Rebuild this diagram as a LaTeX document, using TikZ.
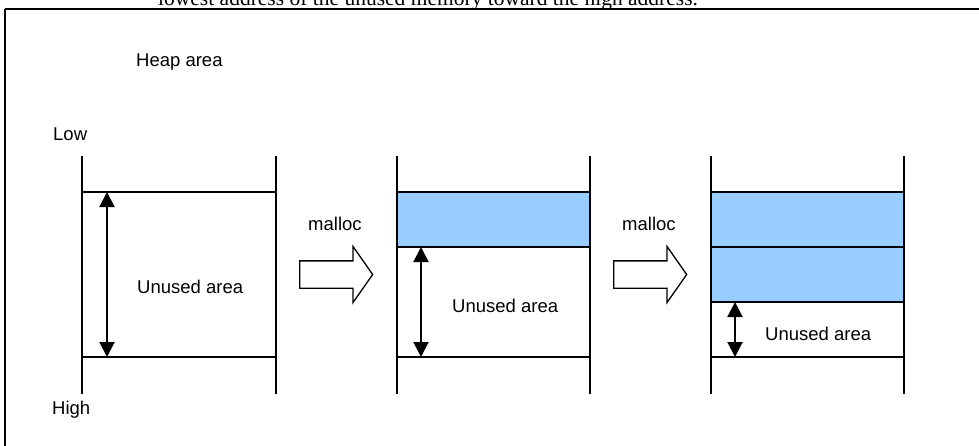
\documentclass[tikz,border=0pt]{standalone}
\usepackage{fontspec}
\setmainfont{Liberation Sans}
\newfontfamily\introserif{Liberation Serif}
\usetikzlibrary{arrows.meta,positioning,shapes.arrows}
\definecolor{heapBlue}{HTML}{99CCFF}

\begin{document}
\begin{tikzpicture}[x=1pt,y=-1pt,>={Triangle[width=15pt,length=15pt]},
    every node/.style={font=\fontsize{18.5}{20}\selectfont,inner sep=0pt},
    wall/.style={line width=1.4pt},
    span/.style={<->,line width=2pt},
    used/.style={fill=heapBlue,draw,line width=1.4pt},
    push/.style={single arrow,draw,line width=1.3pt,fill=white,minimum height=73pt,minimum width=55pt,
      single arrow head extend=14.5pt,single arrow tip angle=110,inner xsep=0pt,inner ysep=13pt}]
  \useasboundingbox (0,0) rectangle (979,445);
  \clip (0,0) rectangle (979,445);
  % ---- caption cut at the top, and the frame ----
  \node[anchor=base west,font=\introserif\fontsize{21.5}{24}\selectfont] (intro) at (158,5)
       {lowest address of the unused memory toward the high address.};
  \draw[line width=2.4pt] (5,9) -- (995,9);
  \draw[line width=1.2pt] (5,9) -- (5,460);
  % ---- titles ----
  \node[anchor=base west] (heap) at (136,66) {Heap area};
  \node[anchor=base west] (low)  at (53,140) {Low};
  \node[anchor=base west] (high) at (52,414) {High};
  % ---- first heap: all unused ----
  \draw[wall] (82,156) -- (82,394); \draw[wall] (276,156) -- (276,394);
  \draw[wall] (82,192) -- (276,192); \draw[wall] (82,357) -- (276,357);
  \coordinate (freeAtop) at (107,192); \coordinate (freeAbot) at (107,357);
  \draw[span] (freeAtop) -- (freeAbot);
  \node[anchor=base west] (unusedA) at (137,293) {Unused area};
  % ---- first malloc ----
  \node[push,anchor=west] (allocA) at (299,274.5) {};
  \node[anchor=base west] (mallocA) at (308,230) {malloc};
  % ---- second heap: one block taken ----
  \draw[used] (397,192) rectangle (590,247);
  \draw[wall] (397,156) -- (397,394); \draw[wall] (590,156) -- (590,394);
  \draw[wall] (397,357) -- (590,357);
  \coordinate (freeBtop) at (421,247); \coordinate (freeBbot) at (421,357);
  \draw[span] (freeBtop) -- (freeBbot);
  \node[anchor=base west] (unusedB) at (452,312) {Unused area};
  % ---- second malloc ----
  \node[push,anchor=west] (allocB) at (613,274.5) {};
  \node[anchor=base west] (mallocB) at (622,230) {malloc};
  % ---- third heap: two blocks taken ----
  \draw[used] (711,192) rectangle (904,247);
  \draw[used] (711,247) rectangle (904,302);
  \draw[wall] (711,156) -- (711,394); \draw[wall] (904,156) -- (904,394);
  \draw[wall] (711,357) -- (904,357);
  \coordinate (freeCtop) at (735,302); \coordinate (freeCbot) at (735,357);
  \draw[span] (freeCtop) -- (freeCbot);
  \node[anchor=base west] (unusedC) at (765,340) {Unused area};
\end{tikzpicture}
\end{document}
